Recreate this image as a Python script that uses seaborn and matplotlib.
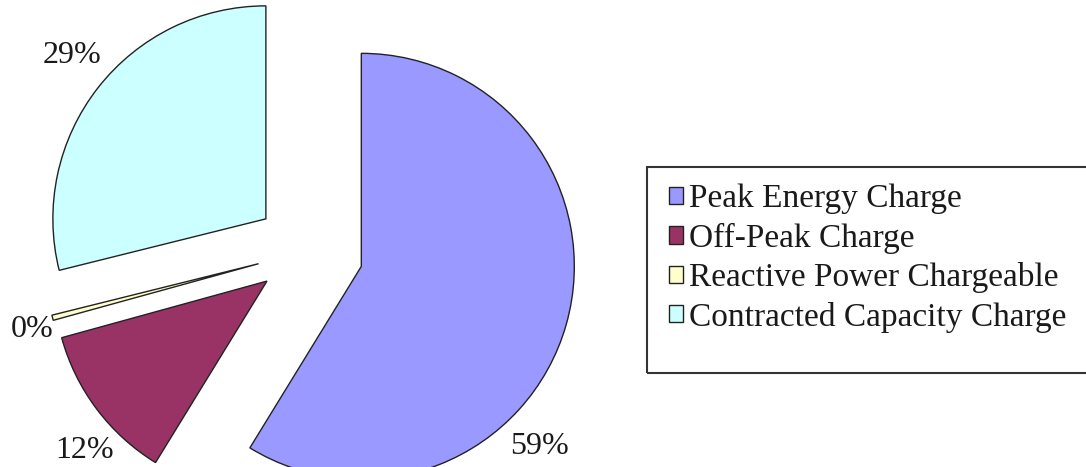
import matplotlib
matplotlib.use("Agg")
import matplotlib.pyplot as plt
from matplotlib.patches import Rectangle
import numpy as np
import seaborn as sns

# ---- data ----
categories = ["Peak Energy Charge", "Off-Peak Charge",
              "Reactive Power Chargeable", "Contracted Capacity Charge"]
values = [59, 12, 0.4, 29]
colors = ["#9999FF", "#993366", "#FFFFCC", "#CCFFFF"]

# ---- style ----
sns.set_theme(style="white")
plt.rcParams["font.family"] = ["Liberation Serif", "DejaVu Serif"]

W, H, DPI = 1086, 467, 100
fig = plt.figure(figsize=(W / DPI, H / DPI), dpi=DPI)
fig.patch.set_facecolor("white")
ax = fig.add_axes([0, 0, 1, 1])

explode = [0.265, 0.235, 0.235, 0.245]
wedges, _ = ax.pie(values, colors=colors, explode=explode, startangle=90,
                   counterclock=False, radius=1.0,
                   wedgeprops=dict(edgecolor="#222222", linewidth=1.0))

# percentage labels placed around each exploded wedge
total = float(sum(values))
label_frac = [0.64, 0.36, -0.6, 0.52]
label_dist = [1.19, 1.17, 1.11, 1.19]
for w, v, fr, d in zip(wedges, values, label_frac, label_dist):
    cx, cy = w.center
    # counterclock=False -> wedge runs clockwise from theta2 to theta1
    ang = np.deg2rad(w.theta2 - fr * (w.theta2 - w.theta1))
    ax.text(cx + d * w.r * np.cos(ang), cy + d * w.r * np.sin(ang),
            f"{100 * v / total:.0f}%", ha="center", va="center",
            fontsize=23, color="#1a1a1a")

# map data units to pixels: pie centre at (307, 251) px, radius 213 px
px = 213.0
cxp, cyp = 307.0, 251.0
ax.set_aspect("auto")
ax.set_xlim(-cxp / px, (W - cxp) / px)
ax.set_ylim(-(H - cyp) / px, cyp / px)
ax.axis("off")

# legend box (extends past right edge like the reference)
box = Rectangle((647 / W, 1 - 373 / H), (W + 20 - 647) / W, (373 - 167) / H,
                transform=fig.transFigure, fill=False,
                edgecolor="#333333", linewidth=1.5, clip_on=False)
fig.patches.append(box)

leg = fig.legend(wedges, categories, loc="upper left",
                 bbox_to_anchor=(669 / W, 1 - 184 / H),
                 bbox_transform=fig.transFigure, frameon=False,
                 fontsize=24, handlelength=0.42, handleheight=0.42,
                 handletextpad=0.18, labelspacing=0.25,
                 borderpad=0, borderaxespad=0)
for t in leg.get_texts():
    t.set_color("#1a1a1a")

fig.savefig("out.png", dpi=DPI, facecolor="white")
